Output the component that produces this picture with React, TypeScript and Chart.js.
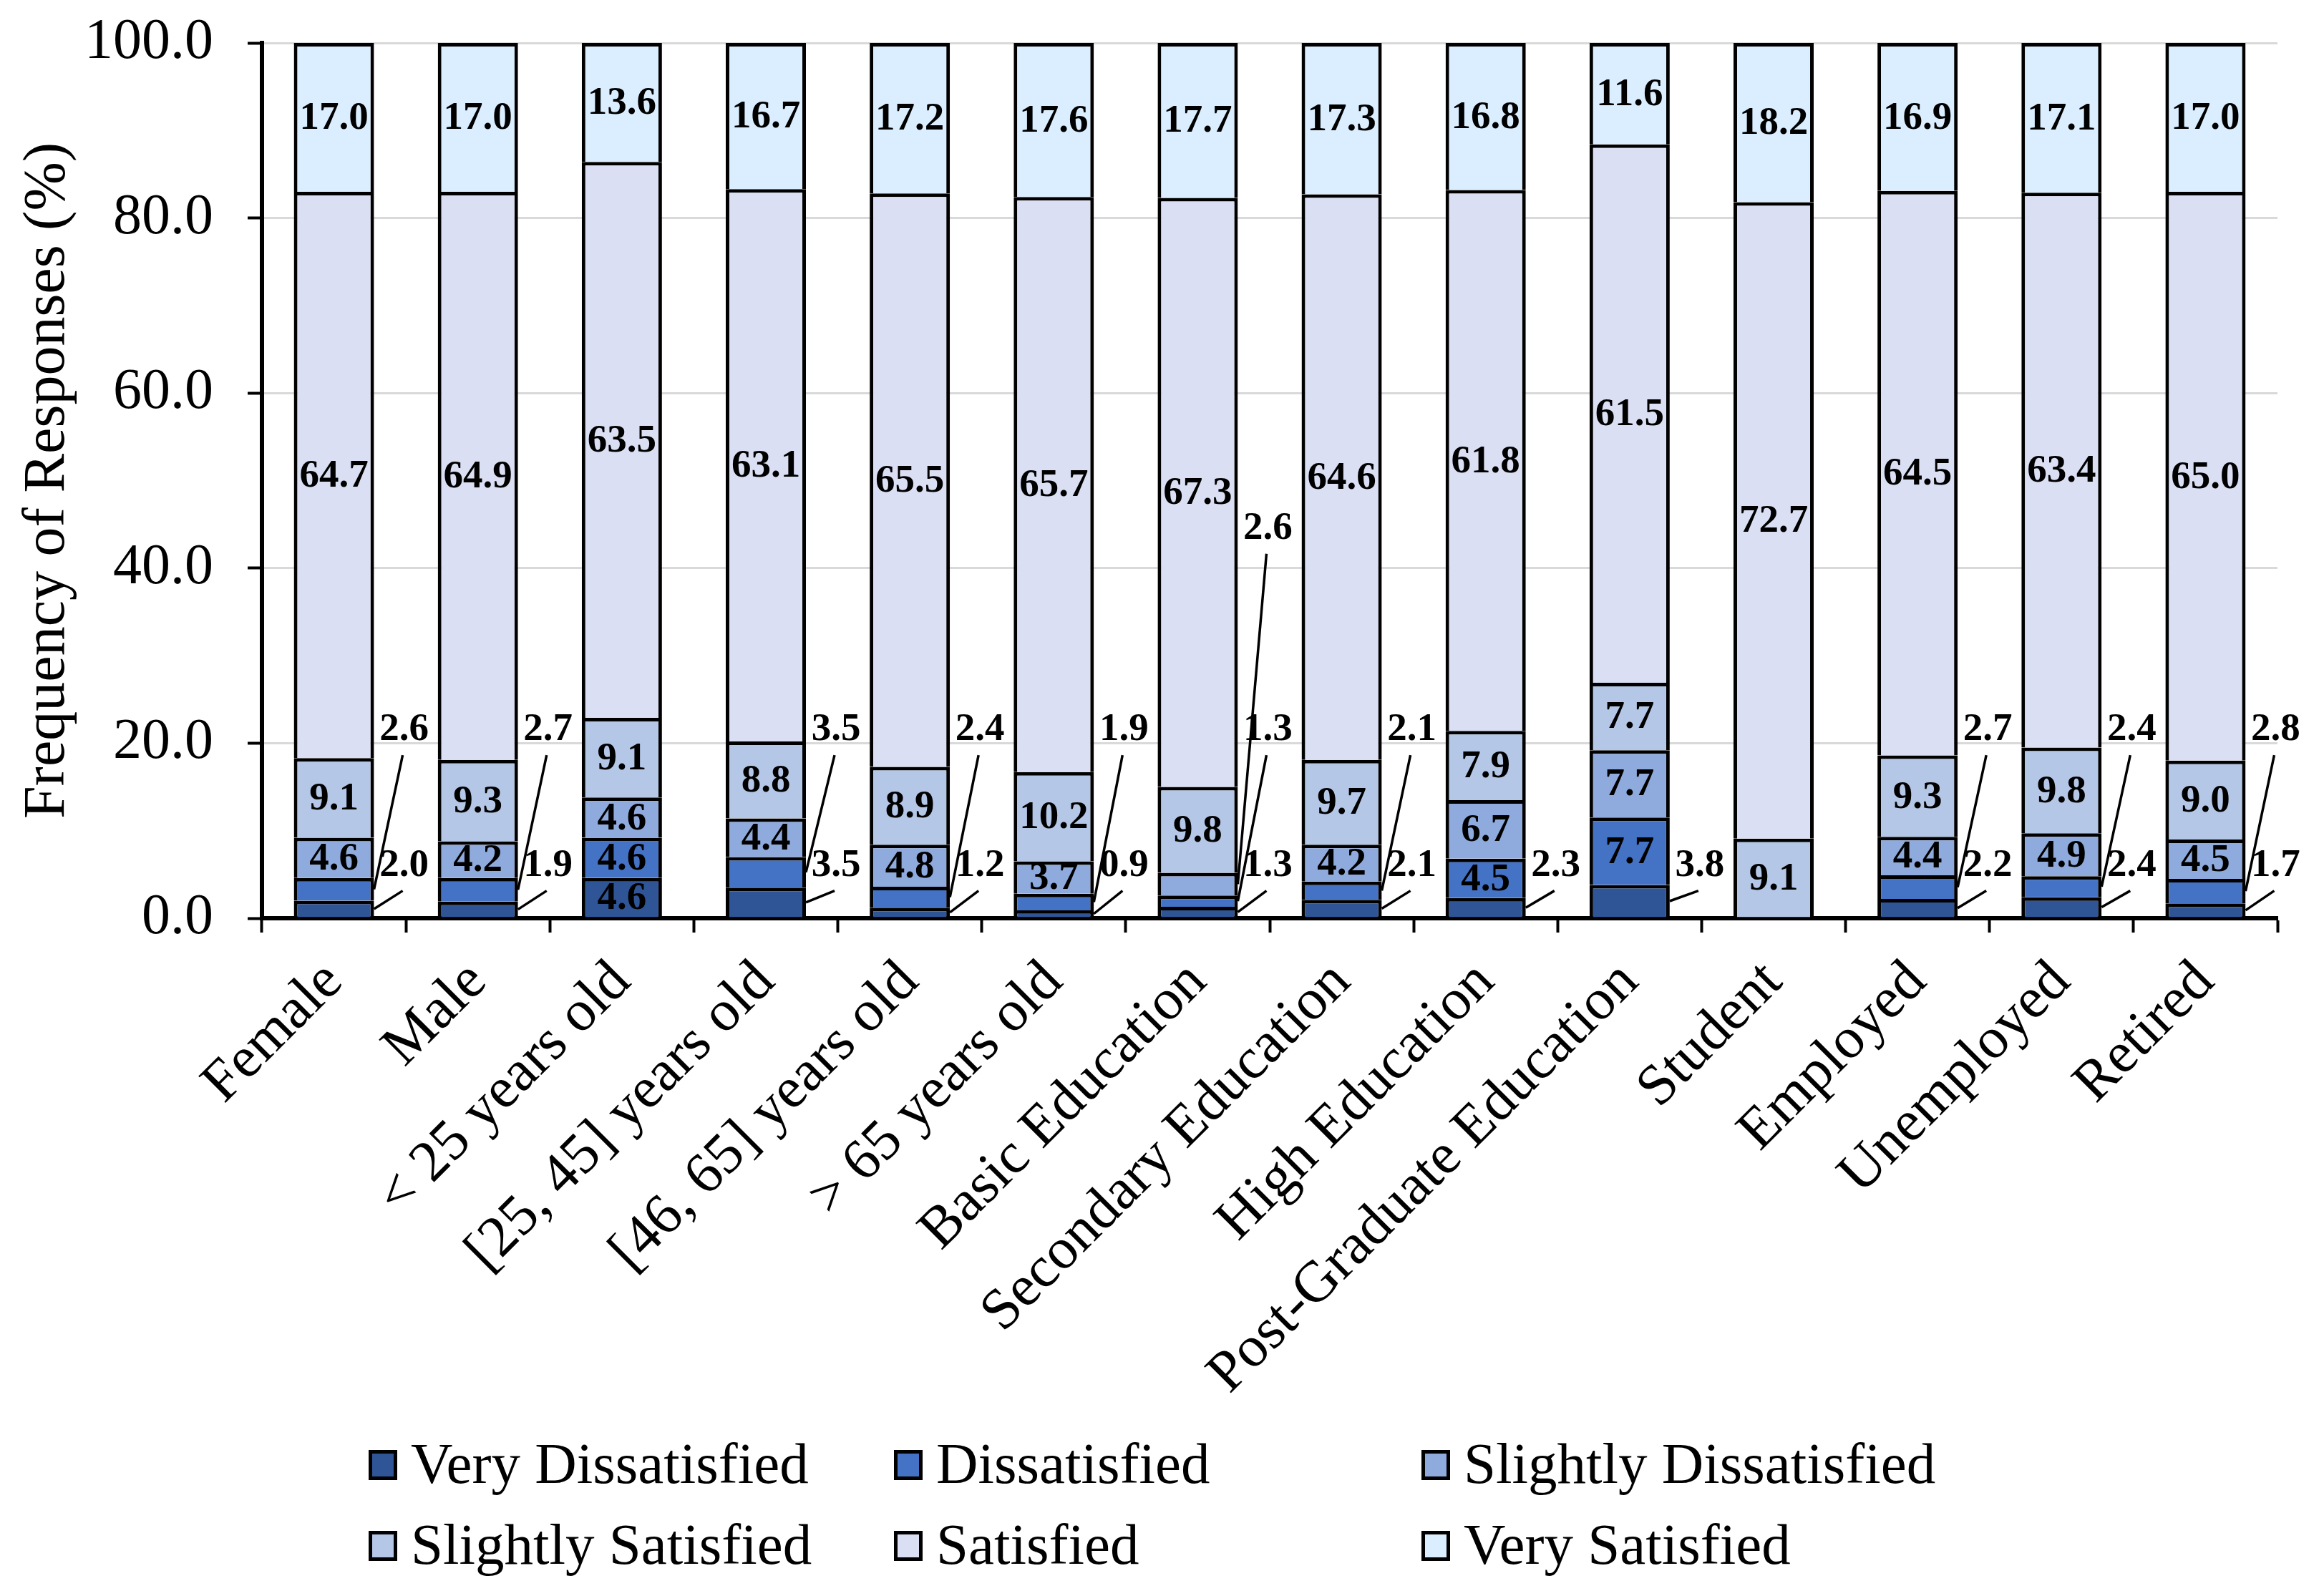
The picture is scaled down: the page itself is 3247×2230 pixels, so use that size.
import React, { useEffect, useRef } from 'react';
import { Chart, registerables } from 'chart.js';

Chart.register(...registerables);

const categories = [
  'Female',
  'Male',
  '< 25 years old',
  '[25, 45] years old',
  '[46, 65] years old',
  '> 65 years old',
  'Basic Education',
  'Secondary Education',
  'High Education',
  'Post-Graduate Education',
  'Student',
  'Employed',
  'Unemployed',
  'Retired',
];

const seriesNames = [
  'Very Dissatisfied',
  'Dissatisfied',
  'Slightly Dissatisfied',
  'Slightly Satisfied',
  'Satisfied',
  'Very Satisfied',
];

const veryDissatisfied = [2.0, 1.9, 4.6, 3.5, 1.2, 0.9, 1.3, 2.1, 2.3, 3.8, 0, 2.2, 2.4, 1.7];
const dissatisfied = [2.6, 2.7, 4.6, 3.5, 2.4, 1.9, 1.3, 2.1, 4.5, 7.7, 0, 2.7, 2.4, 2.8];
const slightlyDissatisfied = [4.6, 4.2, 4.6, 4.4, 4.8, 3.7, 2.6, 4.2, 6.7, 7.7, 0, 4.4, 4.9, 4.5];
const slightlySatisfied = [9.1, 9.3, 9.1, 8.8, 8.9, 10.2, 9.8, 9.7, 7.9, 7.7, 9.1, 9.3, 9.8, 9.0];
const satisfied = [64.7, 64.9, 63.5, 63.1, 65.5, 65.7, 67.3, 64.6, 61.8, 61.5, 72.7, 64.5, 63.4, 65.0];
const verySatisfied = [17.0, 17.0, 13.6, 16.7, 17.2, 17.6, 17.7, 17.3, 16.8, 11.6, 18.2, 16.9, 17.1, 17.0];

const yTickMin = 0;
const yTickMax = 100;
const yTickStep = 20;

const seriesValues = [
  veryDissatisfied,
  dissatisfied,
  slightlyDissatisfied,
  slightlySatisfied,
  satisfied,
  verySatisfied,
];

const colors = ['#2F5597', '#4472C4', '#8FAADC', '#B4C7E7', '#DADFF3', '#DBEEFF'];

const FONT = '"Liberation Serif", "Times New Roman", Times, serif';

// Small segments get their label outside the bar, with a leader line.
function isOutside(datasetIndex: number, v: number) {
  if (datasetIndex <= 1) return v < 4;
  if (datasetIndex === 2) return v < 3;
  return false;
}

const outsideLevels = [6, 21.5, 44.5];

const barLabelPlugin = {
  id: 'barLabels',
  afterDatasetsDraw(chart: any) {
    const ctx = chart.ctx;
    const yScale = chart.scales.y;
    ctx.save();
    ctx.font = `bold 55px ${FONT}`;
    ctx.fillStyle = '#000';
    ctx.strokeStyle = '#000';
    ctx.textAlign = 'center';
    ctx.textBaseline = 'middle';
    for (let j = 0; j < categories.length; j++) {
      let k = 0;
      for (let i = 0; i < seriesValues.length; i++) {
        const v = seriesValues[i][j];
        if (!v) continue;
        const el = chart.getDatasetMeta(i).data[j];
        const { x, y, base, width } = el.getProps(['x', 'y', 'base', 'width'], true);
        const text = v.toFixed(1);
        const midY = (y + base) / 2;
        if (isOutside(i, v)) {
          const right = x + width / 2;
          const lx = right + 42;
          const ly = yScale.getPixelForValue(outsideLevels[Math.min(k, outsideLevels.length - 1)]);
          k++;
          ctx.lineWidth = 3.5;
          ctx.beginPath();
          ctx.moveTo(right, midY);
          ctx.lineTo(lx - 2, ly + 35);
          ctx.stroke();
          ctx.fillText(text, lx, ly);
        } else {
          ctx.fillText(text, x, midY + 2);
        }
      }
    }
    ctx.restore();
  },
};

const legendPlugin = {
  id: 'customLegend',
  afterDraw(chart: any) {
    const ctx = chart.ctx;
    const colX = [515, 1249, 1986];
    const rowY = [2047, 2160];
    ctx.save();
    ctx.font = `81px ${FONT}`;
    ctx.textAlign = 'left';
    ctx.textBaseline = 'middle';
    seriesNames.forEach((name, idx) => {
      const c = idx % 3;
      const r = Math.floor(idx / 3);
      const bx = colX[c];
      const by = rowY[r];
      ctx.fillStyle = colors[idx];
      ctx.fillRect(bx, by - 21, 40, 42);
      ctx.lineWidth = 5;
      ctx.strokeStyle = '#000';
      ctx.strokeRect(bx + 2.5, by - 18.5, 35, 37);
      ctx.fillStyle = '#000';
      ctx.fillText(name, bx + 59, by + 4);
    });
    ctx.restore();
  },
};

export default function App() {
  const canvasRef = useRef<HTMLCanvasElement | null>(null);

  useEffect(() => {
    if (!canvasRef.current) return;
    const chart = new Chart(canvasRef.current, {
      type: 'bar',
      data: {
        labels: categories,
        datasets: seriesNames.map((name, i) => ({
          label: name,
          data: seriesValues[i],
          backgroundColor: colors[i],
          borderColor: '#000',
          borderWidth: 5,
          barPercentage: 0.557,
          categoryPercentage: 1.0,
        })),
      },
      options: {
        animation: false,
        responsive: true,
        maintainAspectRatio: false,
        devicePixelRatio: 1,
        layout: { padding: { left: 0, top: 60, right: 65, bottom: 247 } },
        plugins: {
          legend: { display: false },
          tooltip: { enabled: false },
        },
        scales: {
          x: {
            stacked: true,
            afterFit: (scale: any) => {
              scale.height = 700;
              scale.paddingLeft = 0;
              scale.paddingRight = 0;
            },
            grid: {
              drawOnChartArea: false,
              drawTicks: true,
              tickLength: 20,
              tickColor: '#000',
              tickWidth: 4,
            },
            border: { color: '#000', width: 6 },
            ticks: {
              autoSkip: false,
              maxRotation: 45,
              minRotation: 45,
              color: '#000',
              padding: 22,
              font: { family: FONT, size: 81 },
            },
          },
          y: {
            stacked: true,
            min: yTickMin,
            max: yTickMax,
            afterFit: (scale: any) => {
              scale.width = 366;
              scale.paddingTop = 0;
              scale.paddingBottom = 0;
            },
            grid: {
              color: '#D9D9D9',
              lineWidth: 3,
              tickColor: '#000',
              tickLength: 20,
              tickWidth: 4,
            },
            border: { color: '#000', width: 6 },
            ticks: {
              stepSize: yTickStep,
              color: '#000',
              padding: 48,
              font: { family: FONT, size: 80 },
              callback: (v: any) => Number(v).toFixed(1),
            },
            title: {
              display: true,
              text: 'Frequency of Responses (%)',
              color: '#000',
              font: { family: FONT, size: 82 },
              padding: { top: 18, bottom: 0 },
            },
          },
        },
      },
      plugins: [barLabelPlugin, legendPlugin],
    });
    return () => chart.destroy();
  }, []);

  return (
    <div
      style={{
        position: 'absolute',
        left: 0,
        top: 0,
        width: 3247,
        height: 2230,
        background: '#fff',
      }}
    >
      <canvas ref={canvasRef} />
    </div>
  );
}
